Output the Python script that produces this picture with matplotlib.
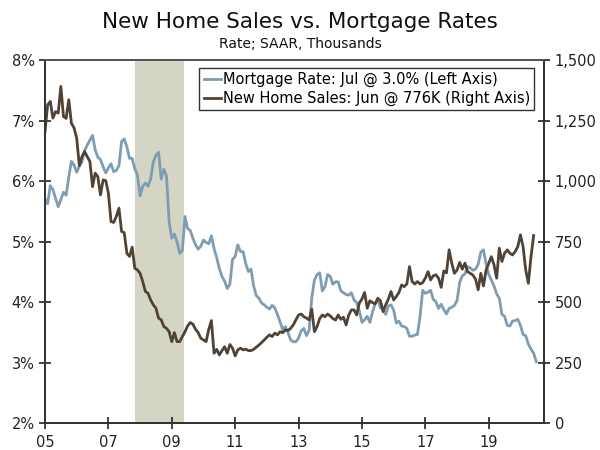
import numpy as np
import matplotlib
matplotlib.use("Agg")
from matplotlib import pyplot as plt

# monthly data, Jan 2005 onward
start_year = 2005
mortgage_rate = [
    5.71, 5.63, 5.93, 5.86, 5.72, 5.58, 5.70, 5.82, 5.77, 6.07, 6.33, 6.27,
    6.15, 6.25, 6.32, 6.51, 6.60, 6.68, 6.76, 6.52, 6.40, 6.36, 6.24, 6.14,
    6.22, 6.29, 6.16, 6.18, 6.26, 6.66, 6.70, 6.57, 6.38, 6.38, 6.21, 6.10,
    5.76, 5.92, 5.97, 5.92, 6.04, 6.32, 6.43, 6.48, 6.04, 6.20, 6.09, 5.33,
    5.06, 5.13, 5.00, 4.81, 4.86, 5.42, 5.22, 5.19, 5.06, 4.95, 4.88, 4.93,
    5.03, 4.99, 4.97, 5.10, 4.89, 4.74, 4.56, 4.43, 4.35, 4.23, 4.30, 4.71,
    4.76, 4.95, 4.84, 4.84, 4.64, 4.51, 4.55, 4.27, 4.11, 4.07, 3.99, 3.96,
    3.92, 3.89, 3.95, 3.91, 3.80, 3.68, 3.55, 3.60, 3.50, 3.38, 3.35, 3.35,
    3.41, 3.53, 3.57, 3.45, 3.54, 4.07, 4.37, 4.46, 4.49, 4.19, 4.26, 4.46,
    4.43, 4.30, 4.34, 4.34, 4.19, 4.16, 4.13, 4.12, 4.16, 4.04, 4.00, 3.86,
    3.67, 3.71, 3.77, 3.67, 3.84, 3.98, 4.05, 3.91, 3.89, 3.80, 3.94, 3.96,
    3.87, 3.66, 3.69, 3.61, 3.60, 3.57, 3.44, 3.44, 3.46, 3.47, 3.77, 4.20,
    4.15, 4.17, 4.20, 4.05, 4.01, 3.90, 3.97, 3.88, 3.81, 3.90, 3.92, 3.95,
    4.03, 4.33, 4.44, 4.47, 4.59, 4.57, 4.53, 4.55, 4.63, 4.83, 4.87, 4.64,
    4.46, 4.37, 4.27, 4.14, 4.07, 3.80, 3.77, 3.62, 3.61, 3.69, 3.70, 3.72,
    3.62, 3.47, 3.45, 3.31, 3.23, 3.16, 3.02,
]
home_sales = [
    1206, 1316, 1330, 1261, 1288, 1282, 1392, 1268, 1260, 1337, 1240, 1221,
    1178, 1065, 1102, 1123, 1102, 1082, 978, 1034, 1020, 944, 1006, 1003,
    951, 834, 830, 855, 889, 793, 788, 703, 690, 728, 641, 634,
    620, 586, 545, 538, 510, 490, 476, 435, 428, 400, 393, 379,
    338, 375, 338, 338, 359, 379, 403, 417, 410, 389, 375, 352,
    345, 338, 389, 425, 290, 306, 283, 301, 317, 290, 326, 311,
    279, 304, 311, 304, 307, 301, 301, 306, 315, 324, 334, 345,
    356, 366, 359, 373, 366, 379, 375, 386, 384, 393, 407, 428,
    448, 452, 441, 435, 428, 472, 379, 400, 433, 448, 441, 452,
    444, 433, 427, 448, 430, 439, 407, 448, 469, 469, 448, 497,
    514, 541, 476, 507, 499, 494, 517, 507, 462, 490, 514, 545,
    510, 524, 541, 572, 565, 576, 648, 586, 576, 586, 576, 582,
    600, 627, 593, 610, 614, 600, 562, 630, 622, 717, 662, 620,
    634, 665, 637, 662, 627, 620, 613, 596, 552, 620, 568, 634,
    662, 689, 655, 600, 724, 669, 703, 717, 703, 696, 710, 730,
    779, 730, 634, 579, 689, 776,
]
recession = (2007.84, 2009.40)

x_ticks = [2005, 2007, 2009, 2011, 2013, 2015, 2017, 2019]
x_labels = ["05", "07", "09", "11", "13", "15", "17", "19"]
left_ticks = [2, 3, 4, 5, 6, 7, 8]
left_labels = ["2%", "3%", "4%", "5%", "6%", "7%", "8%"]
right_ticks = [0, 250, 500, 750, 1000, 1250, 1500]
right_labels = ["0", "250", "500", "750", "1,000", "1,250", "1,500"]

blue = "#7f9db2"
brown = "#504235"

t_rate = start_year + np.arange(len(mortgage_rate)) / 12
t_sales = start_year + np.arange(len(home_sales)) / 12

fig = plt.figure(figsize=(6, 4.5), dpi=100)
ax = fig.add_axes([0.075, 0.059, 0.832, 0.807])
ax2 = ax.twinx()

ax.axvspan(*recession, color="#d5d5c5", lw=0, zorder=0)
l1, = ax.plot(t_rate, mortgage_rate, color=blue, lw=2.0,
              label="Mortgage Rate: Jul @ 3.0% (Left Axis)")
l2, = ax2.plot(t_sales, home_sales, color=brown, lw=2.0,
               label="New Home Sales: Jun @ 776K (Right Axis)")

ax.set_xlim(2005, 2020.75)
ax.set_ylim(2, 8)
ax2.set_ylim(0, 1500)
ax.set_xticks(x_ticks, x_labels)
ax.set_yticks(left_ticks, left_labels)
ax2.set_yticks(right_ticks, right_labels)

for a in (ax, ax2):
    a.tick_params(direction="inout", length=9, width=1.2, labelsize=10.5,
                  colors="#222222", pad=3)
    for s in a.spines.values():
        s.set_color("#333333")
        s.set_linewidth(1.3)
    a.spines["top"].set_color("#555555")
ax.tick_params(axis="x", pad=4)

leg = ax2.legend(handles=[l1, l2], loc="upper right",
                 bbox_to_anchor=(0.98, 0.98), fontsize=10.5, frameon=True,
                 fancybox=False, edgecolor="black", handlelength=1.2,
                 handletextpad=0.1, borderpad=0.3, labelspacing=0.25,
                 borderaxespad=0)
leg.get_frame().set_linewidth(1.0)

fig.text(0.5, 0.952, "New Home Sales vs. Mortgage Rates", ha="center",
         va="center", fontsize=15.5, color="#111111")
fig.text(0.5, 0.902, "Rate; SAAR, Thousands", ha="center", va="center",
         fontsize=10, color="#111111")

fig.savefig("out.png", dpi=100)
